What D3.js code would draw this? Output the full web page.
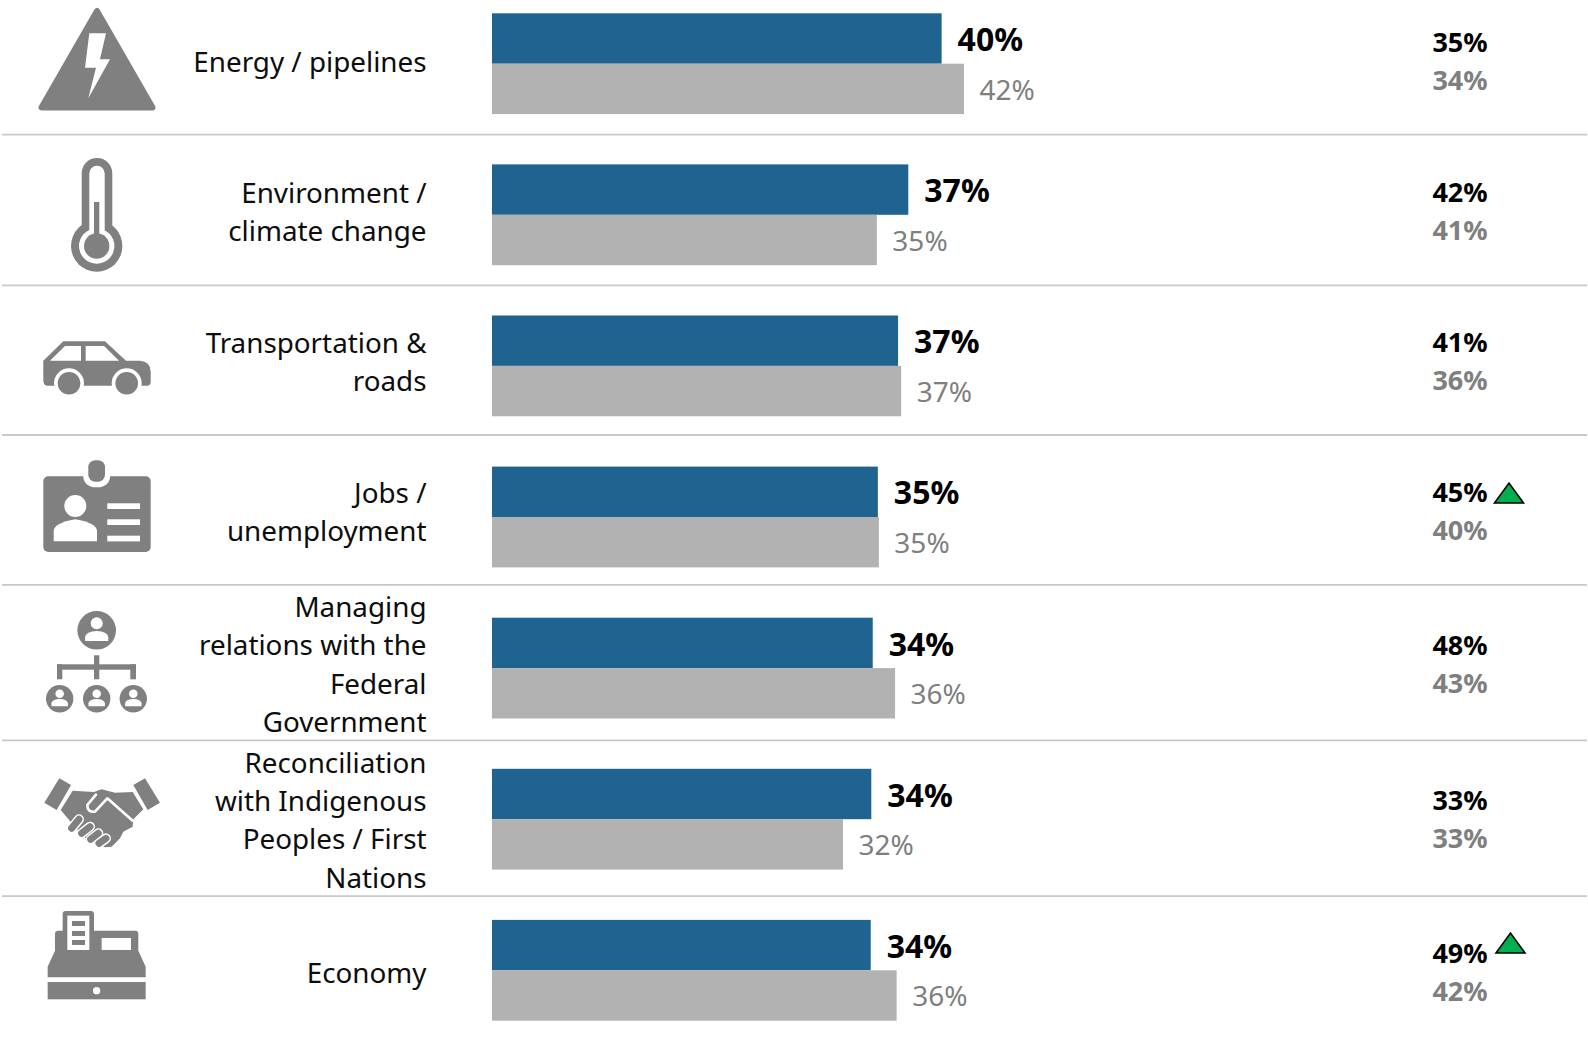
<!DOCTYPE html>
<html>
<head>
<meta charset="utf-8">
<script src="https://cdn.jsdelivr.net/npm/d3@7"></script>
<style>
  html, body { margin: 0; padding: 0; background: #fff; }
  svg { display: block; }
  text { font-family: "Noto Sans", "Open Sans", sans-serif; }
</style>
</head>
<body>
<div id="visualization"></div>
<script>
// Row labels, one entry per printed line.
const categories = [
  ["Energy / pipelines"],
  ["Environment /", "climate change"],
  ["Transportation &", "roads"],
  ["Jobs /", "unemployment"],
  ["Managing", "relations with the", "Federal", "Government"],
  ["Reconciliation", "with Indigenous", "Peoples / First", "Nations"],
  ["Economy"]
];

// Bar lengths in percent (labels show them rounded).
const currentValues = [40.47, 37.47, 36.55, 34.73, 34.27, 34.14, 34.09];
const previousValues = [42.48, 34.64, 36.83, 34.82, 36.28, 31.59, 36.42];

// Right hand column.
const sideCurrent = [35, 42, 41, 45, 48, 33, 49];
const sidePrevious = [34, 41, 36, 40, 43, 33, 42];
const sideTrendUp = [false, false, false, true, false, false, true];

// Total size of the SVG element.
const totalWidth = 1588;
const totalHeight = 1038;

const blue = "#1f6391";
const barGrey = "#b2b2b2";
const textGrey = "#7f7f7f";
const iconGrey = "#808080";

const svg = d3.select("#visualization")
  .append("svg")
  .attr("width", totalWidth)
  .attr("height", totalHeight);

const rows = d3.range(categories.length);

// Scales. Bars sit on an even step of 151.1px.
const x = d3.scaleLinear().domain([0, 100]).range([492, 1603]);
const barPadding = 0.333;
const y = d3.scaleBand().domain(rows)
  .range([13.3, 13.3 + 151.1 * (rows.length - barPadding)])
  .paddingInner(barPadding).paddingOuter(0);
const barHeight = y.bandwidth() / 2;

// Row cells are not even, the long labels push the rules down.
const cellEdges = [-15, 134.7, 285.3, 435, 584.9, 740.3, 896.2, 1046.2];
const cellMiddle = i => (cellEdges[i] + cellEdges[i + 1]) / 2 + 2;

// Rules between rows.
svg.selectAll("line.rule")
  .data(cellEdges.slice(1, -1))
  .join("line")
    .attr("class", "rule")
    .attr("x1", 2).attr("x2", 1587)
    .attr("y1", d => d).attr("y2", d => d)
    .style("stroke", "#c9c9c9")
    .style("stroke-width", 1.8);

// Row labels.
const labels = svg.selectAll("g.label").data(categories).join("g").attr("class", "label");
labels.selectAll("text")
  .data((d, i) => d.map((line, j) => ({line, j, n: d.length, i})))
  .join("text")
    .attr("x", 426.5)
    .attr("y", d => cellMiddle(d.i) + (d.j - (d.n - 1) / 2) * 38.4 + 10)
    .attr("text-anchor", "end")
    .style("font-size", "27.8px")
    .style("fill", "#0d0d0d")
    .text(d => d.line);

// Bars.
svg.selectAll("rect.current")
  .data(currentValues)
  .join("rect")
    .attr("class", "current")
    .attr("x", x(0))
    .attr("y", (d, i) => y(i))
    .attr("width", d => x(d) - x(0))
    .attr("height", barHeight)
    .style("fill", blue);

svg.selectAll("rect.previous")
  .data(previousValues)
  .join("rect")
    .attr("class", "previous")
    .attr("x", x(0))
    .attr("y", (d, i) => y(i) + barHeight)
    .attr("width", d => x(d) - x(0))
    .attr("height", barHeight)
    .style("fill", barGrey);

// Bar value labels.
svg.selectAll("text.current")
  .data(currentValues)
  .join("text")
    .attr("class", "current")
    .attr("x", d => x(d) + 16)
    .attr("y", (d, i) => y(i) + barHeight / 2 + 12.7)
    .style("font-size", "32px")
    .style("font-weight", 700)
    .style("fill", "#000")
    .text(d => Math.round(d) + "%");

svg.selectAll("text.previous")
  .data(previousValues)
  .join("text")
    .attr("class", "previous")
    .attr("x", d => x(d) + 15.5)
    .attr("y", (d, i) => y(i) + barHeight * 1.5 + 11)
    .style("font-size", "28px")
    .style("fill", textGrey)
    .text(d => Math.round(d) + "%");

// Right hand column.
svg.selectAll("text.sideCurrent")
  .data(sideCurrent)
  .join("text")
    .attr("class", "sideCurrent")
    .attr("x", 1460)
    .attr("y", (d, i) => cellMiddle(i) - 19 + 9.2)
    .attr("text-anchor", "middle")
    .style("font-size", "27px")
    .style("font-weight", 700)
    .style("fill", "#000")
    .text(d => d + "%");

svg.selectAll("text.sidePrevious")
  .data(sidePrevious)
  .join("text")
    .attr("class", "sidePrevious")
    .attr("x", 1460)
    .attr("y", (d, i) => cellMiddle(i) + 19 + 9.2)
    .attr("text-anchor", "middle")
    .style("font-size", "27px")
    .style("font-weight", 700)
    .style("fill", textGrey)
    .text(d => d + "%");

// Up arrows, the last one sits a bit higher in the source.
const trendRows = rows.filter(i => sideTrendUp[i]);
svg.selectAll("path.trend")
  .data(trendRows)
  .join("path")
    .attr("class", "trend")
    .attr("d", i => {
      const cx = i === 6 ? 1510.5 : 1509;
      const base = i === 6 ? 953 : 503;
      return `M${cx - 14.5},${base}L${cx},${base - 20}L${cx + 14.5},${base}Z`;
    })
    .style("fill", "#00b050")
    .style("stroke", "#000")
    .style("stroke-width", 1.6)
    .style("stroke-linejoin", "miter");

// Icons, drawn by hand in page coordinates.
const icons = svg.append("g").attr("class", "icons");

function addPath(d, fill, stroke, width) {
  const p = icons.append("path").attr("d", d).style("fill", fill);
  if (stroke) p.style("stroke", stroke).style("stroke-width", width).style("stroke-linejoin", "round").style("stroke-linecap", "round");
  return p;
}
function addCircle(cx, cy, r, fill) {
  icons.append("circle").attr("cx", cx).attr("cy", cy).attr("r", r).style("fill", fill);
}
function addRect(x0, y0, w, h, fill, rx) {
  icons.append("rect").attr("x", x0).attr("y", y0).attr("width", w).attr("height", h).attr("rx", rx || 0).style("fill", fill);
}
function addPerson(cx, cy, r) {
  addCircle(cx, cy, r, iconGrey);
  addCircle(cx, cy - 0.36 * r, 0.31 * r, "#fff");
  addPath(`M${cx - 0.6 * r},${cy + 0.55 * r}V${cy + 0.33 * r}Q${cx - 0.55 * r},${cy + 0.05 * r} ${cx},${cy + 0.03 * r}Q${cx + 0.55 * r},${cy + 0.05 * r} ${cx + 0.6 * r},${cy + 0.33 * r}V${cy + 0.55 * r}Z`, "#fff");
}

// Warning triangle.
addPath("M97,11L41.5,107.5H152.5Z", iconGrey, iconGrey, 6);
addPath("M89.3,33.3H106L100,59.3H110L88.3,98.3L96,67.7H85Z", "#fff");

// Thermometer.
addRect(81.7, 158, 30.6, 85, iconGrey, 15.3);
addCircle(96.7, 246, 25.7, iconGrey);
addRect(89.3, 165.7, 15.4, 75, "#fff", 7.7);
addCircle(96.7, 246, 17.7, "#fff");
addCircle(96.7, 246, 12.7, iconGrey);
addRect(94, 202, 5.3, 40, iconGrey);

// Car.
addPath("M43.3,360.7L63.3,341.3H105L126,360.7H140Q150.7,361.7 150.7,371.7V381.7Q150.7,385.7 146.7,385.7H47Q43.3,385.7 43.3,380Z", iconGrey);
addPath("M50,360.7L65,346H81V360.7Z", "#fff");
addPath("M85.7,346H104L119,360.7H85.7Z", "#fff");
addCircle(69, 383.3, 15, "#fff");
addCircle(126.7, 383.3, 15, "#fff");
addCircle(69, 383.3, 11.3, iconGrey);
addCircle(126.7, 383.3, 11.3, iconGrey);

// Id badge.
addRect(43.3, 476.3, 107.4, 75.7, iconGrey, 5);
addRect(83.3, 466, 26.7, 21.3, "#fff", 12);
addRect(88.3, 460.3, 16.7, 21.4, iconGrey, 7);
addCircle(75.3, 506, 11, "#fff");
addPath("M53.7,541.3V531Q54,523 75.3,519.3Q96.7,523 97,531V541.3Z", "#fff");
[503.3, 519.3, 535.7].forEach(t => addRect(107.3, t, 32.7, 5.7, "#fff"));

// Org chart.
addPerson(96.7, 630.3, 19.3);
addRect(94, 655.3, 5.3, 24, iconGrey);
addRect(57, 664.3, 79, 5.4, iconGrey);
addRect(57, 664.3, 5.3, 15, iconGrey);
addRect(130.3, 664.3, 5.7, 15, iconGrey);
[59.7, 96.7, 133.3].forEach(c => addPerson(c, 698.7, 13.7));

// Handshake, sketched in zoom coordinates.
const hands = icons.append("g").attr("transform", "translate(0,730) scale(0.3333)");
const handPath = (d, fill, stroke, width) => {
  const p = hands.append("path").attr("d", d).style("fill", fill);
  if (stroke) p.style("stroke", stroke).style("stroke-width", width).style("stroke-linecap", "round").style("stroke-linejoin", "round");
};
const fingers = [[237, 268, 215, 295], [270, 290, 245, 310], [295, 310, 272, 328], [318, 325, 297, 340]];
handPath("M178,145L213,165L170,240L133,218Z", iconGrey);
handPath("M435,145L400,165L443,240L480,218Z", iconGrey);
handPath("M218,182L282,186L305,178L345,188L398,186L430,238L400,268L398,290L370,305L360,325L335,350L315,352L250,320L182,240Z", iconGrey);
handPath("M398,272L322,205L285,245Q262,248 262,225L288,194", "none", "#fff", 8);
fingers.forEach(f => handPath(`M${f[0]},${f[1]}L${f[2]},${f[3]}`, "none", "#fff", 30));
fingers.forEach(f => handPath(`M${f[0]},${f[1]}L${f[2]},${f[3]}`, "none", iconGrey, 21));

// Cash register.
const till = icons.append("g").attr("transform", "translate(0,730) scale(0.3333)");
till.append("path").attr("d", "M188,552Q188,543 197,543H273Q282,543 282,552V602H405Q415,602 415,612V662L437,710V742H143V710L165,662V612Q165,602 175,602H188Z").style("fill", iconGrey);
till.append("rect").attr("x", 202).attr("y", 557).attr("width", 66).attr("height", 103).style("fill", "#fff");
[573, 603, 630].forEach(t => till.append("rect").attr("x", 216).attr("y", t).attr("width", 39).attr("height", 15).style("fill", iconGrey));
till.append("rect").attr("x", 305).attr("y", 624).attr("width", 88).attr("height", 36).style("fill", "#fff");
till.append("rect").attr("x", 143).attr("y", 756).attr("width", 294).attr("height", 52).style("fill", iconGrey);
till.append("circle").attr("cx", 290).attr("cy", 782).attr("r", 11).style("fill", "#fff");
</script>
</body>
</html>
